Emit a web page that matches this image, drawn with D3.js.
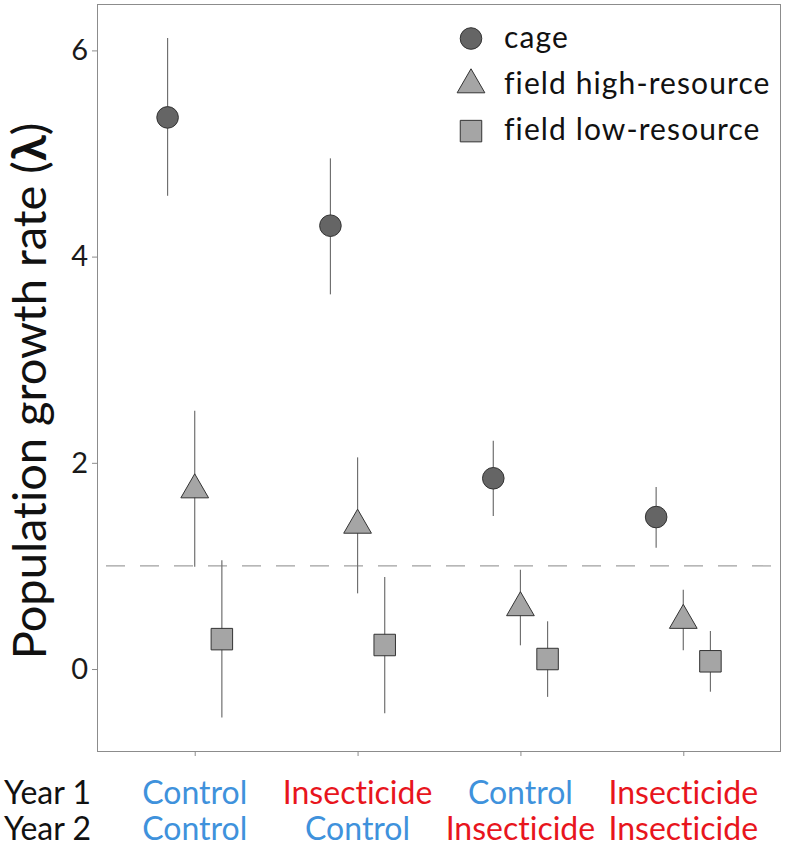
<!DOCTYPE html>
<html><head><meta charset="utf-8">
<script src="https://cdn.jsdelivr.net/npm/d3@7"></script>
<style>body{margin:0;background:#fff}svg{display:block}text{font-family:Lato,"Noto Sans",sans-serif;font-variant-ligatures:none}</style>
</head><body>
<script>
const categories = ["C-C","I-C","C-I","I-I"];
const year1Labels = ["Control","Insecticide","Control","Insecticide"];
const year2Labels = ["Control","Control","Insecticide","Insecticide"];
const groups = ["cage","field high-resource","field low-resource"];
const cageMean  = [5.35, 4.30, 1.85, 1.474];
const cageLo    = [4.59, 3.634, 1.484, 1.177];
const cageHi    = [6.12, 4.953, 2.215, 1.765];
const highMean  = [1.738, 1.395, 0.595, 0.472];
const highLo    = [0.993, 0.734, 0.23, 0.181];
const highHi    = [2.505, 2.053, 0.963, 0.769];
const lowMean   = [0.29, 0.233, 0.097, 0.075];
const lowLo     = [-0.47, -0.43, -0.27, -0.22];
const lowHi     = [1.054, 0.892, 0.463, 0.369];
const yTicks = [0, 2, 4, 6];
const refLine = 1;

const W = 786, H = 846;
const L = 97, R = 781, T = 4, B = 751;
const svg = d3.select("body").append("svg").attr("width", W).attr("height", H);

const y = d3.scaleLinear().domain([-0.795, 6.45]).range([B, T]);
const x = d3.scalePoint().domain(categories).range([L, R]).padding(0.6);
const dodge = d3.scalePoint().domain(groups).range([-x.step()/6, x.step()/6]);

const series = [
  {g: groups[0], mean: cageMean, lo: cageLo, hi: cageHi, sym: d3.symbolCircle, size: 366, fill: "#656565"},
  {g: groups[1], mean: highMean, lo: highLo, hi: highHi, sym: d3.symbolTriangle, size: 333, fill: "#a5a5a5"},
  {g: groups[2], mean: lowMean, lo: lowLo, hi: lowHi, sym: d3.symbolSquare, size: 462, fill: "#a5a5a5"}
];

// panel border
svg.append("rect").attr("x", L+0.5).attr("y", T+0.5).attr("width", R-L-1).attr("height", B-T)
  .attr("fill", "none").attr("stroke", "#8c8c8c").attr("stroke-width", 1);

// y axis
const yAxis = d3.axisLeft(y).tickValues(yTicks).tickSize(5).tickPadding(4).tickFormat(d3.format("d"));
const gy = svg.append("g").attr("transform", `translate(${L},0)`).call(yAxis);
gy.select(".domain").remove();
gy.selectAll(".tick line").attr("stroke", "#8c8c8c");
gy.selectAll(".tick text").attr("font-size", 29).attr("fill", "#1a1a1a").attr("font-family", "Lato");

// x axis ticks
const xAxis = d3.axisBottom(x).tickSize(5).tickFormat("");
const gx = svg.append("g").attr("transform", `translate(0,${B})`).call(xAxis);
gx.select(".domain").remove();
gx.selectAll(".tick line").attr("stroke", "#8c8c8c");

// reference line
svg.append("line").attr("x1", L+1).attr("x2", R-1).attr("y1", y(refLine)).attr("y2", y(refLine))
  .attr("stroke", "#a0a0a0").attr("stroke-width", 1.2).attr("stroke-dasharray", "19,15").attr("stroke-dashoffset", -8);

// error bars + points
series.forEach(s => {
  const g = svg.append("g");
  categories.forEach((c, i) => {
    const cx = x(c) + dodge(s.g);
    g.append("line").attr("x1", cx).attr("x2", cx).attr("y1", y(s.lo[i])).attr("y2", y(s.hi[i]))
      .attr("stroke", "#707070").attr("stroke-width", 1.2);
  });
});
series.forEach(s => {
  categories.forEach((c, i) => {
    const cx = x(c) + dodge(s.g);
    svg.append("path").attr("d", d3.symbol(s.sym, s.size)())
      .attr("transform", `translate(${cx},${y(s.mean[i])})`)
      .attr("fill", s.fill).attr("stroke", "#333").attr("stroke-width", 1);
  });
});

// legend
const leg = svg.append("g");
series.forEach((s, i) => {
  const ly = 38.5 + i * 46.3;
  leg.append("path").attr("d", d3.symbol(s.sym, s.size)()).attr("transform", `translate(471,${ly})`)
    .attr("fill", s.fill).attr("stroke", "#333").attr("stroke-width", 1);
  leg.append("text").attr("x", 504).attr("y", ly + 9).attr("font-size", 30).attr("letter-spacing", 1.1)
    .attr("fill", "#111").text(s.g);
});

// y label
svg.append("text").attr("transform", `translate(46,391) rotate(-90)`).attr("text-anchor", "middle")
  .attr("font-size", 47).attr("fill", "#111")
  .call(t => { t.append("tspan").text("Population growth rate ("); t.append("tspan").attr("font-weight", "bold").text("λ"); t.append("tspan").text(")"); });

// bottom labels
const colorOf = v => v === "Control" ? "#3f92dc" : "#e8151d";
svg.append("text").attr("x", 4).attr("y", 804).attr("font-size", 32).attr("fill", "#111").text("Year 1");
svg.append("text").attr("x", 4).attr("y", 840).attr("font-size", 32).attr("fill", "#111").text("Year 2");
categories.forEach((c, i) => {
  svg.append("text").attr("x", x(c)).attr("y", 804).attr("text-anchor", "middle").attr("font-size", 32)
    .attr("fill", colorOf(year1Labels[i])).text(year1Labels[i]);
  svg.append("text").attr("x", x(c)).attr("y", 840).attr("text-anchor", "middle").attr("font-size", 32)
    .attr("fill", colorOf(year2Labels[i])).text(year2Labels[i]);
});
</script>
</body></html>
